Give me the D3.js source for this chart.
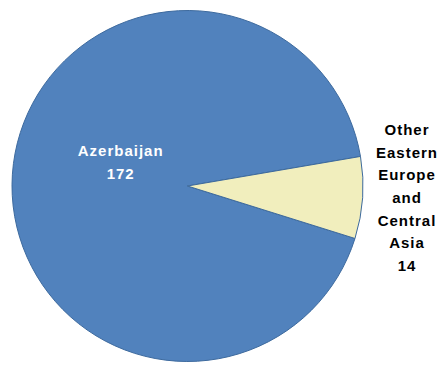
<!DOCTYPE html>
<html>
<head>
<meta charset="utf-8">
<script src="https://cdn.jsdelivr.net/npm/d3@7"></script>
<style>
  body { margin: 0; background: #fff; }
  text { font-family: "Liberation Sans", Arial, sans-serif; font-weight: bold; font-size: 15px; letter-spacing: 1px; }
</style>
</head>
<body>
<script>
var categories = ['Azerbaijan', 'Other Eastern Europe and Central Asia'];
var values = [172, 14];
var labelLines = [['Azerbaijan', '172'], ['Other', 'Eastern', 'Europe', 'and', 'Central', 'Asia', '14']];
var colors = ['#5182BD', '#F1EEBD'];

var width = 446, height = 369;
var cx = 187.5, cy = 186, r = 175.5;

var svg = d3.select('body').append('svg')
  .attr('width', width)
  .attr('height', height);

var g = svg.append('g')
  .attr('transform', 'translate(' + cx + ',' + cy + ')');

var start = 107.4 * Math.PI / 180;
var pie = d3.pie().sort(null)
  .startAngle(start)
  .endAngle(start + 2 * Math.PI);

var arcs = pie(values);
var arc = d3.arc().innerRadius(0).outerRadius(r);

g.selectAll('path').data(arcs)
  .enter()
  .append('path')
  .attr('d', arc)
  .attr('fill', function(d, i) {return colors[i]})
  .attr('stroke', '#3D6A9E')
  .attr('stroke-width', 1);

// label anchor radius and nudges, per slice
var labelR = [70, 220];
var labelShift = [[3, -19], [0, -3]];
var lineH = 22.7;

var labels = g.selectAll('.label').data(arcs)
  .enter()
  .append('text')
  .attr('class', 'label')
  .attr('text-anchor', 'middle')
  .attr('fill', function(d, i) {return i == 0 ? '#fff' : '#000'})
  .attr('transform', function(d, i) {
    var p = d3.arc().innerRadius(labelR[i]).outerRadius(labelR[i]).centroid(d);
    var n = labelLines[i].length;
    var x = p[0] + labelShift[i][0];
    var y = p[1] + labelShift[i][1] - (n - 1) * lineH / 2;
    return 'translate(' + x + ',' + y + ')';
  });

labels.selectAll('tspan')
  .data(function(d, i) {return labelLines[i]})
  .enter()
  .append('tspan')
  .attr('x', 0)
  .attr('y', function(d, j) {return j * lineH})
  .attr('dy', '0.35em')
  .text(function(d) {return d});
</script>
</body>
</html>
